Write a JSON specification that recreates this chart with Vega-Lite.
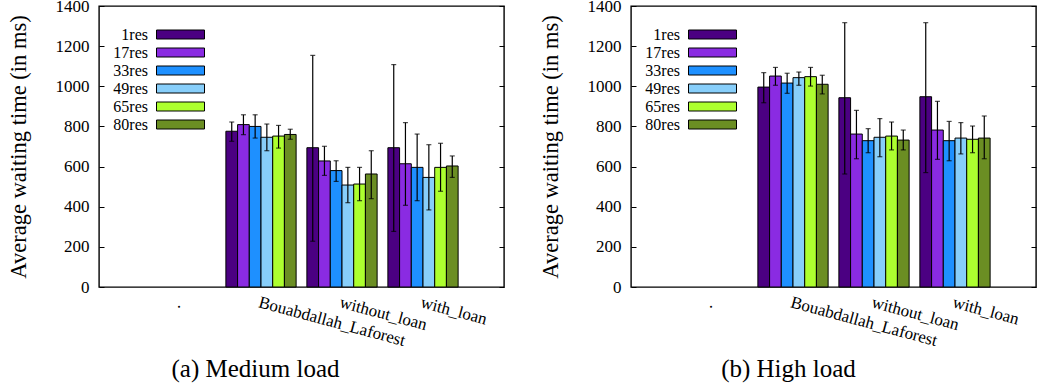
{
  "$schema": "https://vega.github.io/schema/vega-lite/v6.json",
  "padding": {"left": 6, "top": -4, "right": 5, "bottom": 0},
  "background": "white",
  "datasets": {
    "medium": [
      {"group": "Bouabdallah_Laforest", "series": "1res", "value": 776, "lo": 726, "hi": 822},
      {"group": "Bouabdallah_Laforest", "series": "17res", "value": 809, "lo": 759, "hi": 858},
      {"group": "Bouabdallah_Laforest", "series": "33res", "value": 800, "lo": 742, "hi": 858},
      {"group": "Bouabdallah_Laforest", "series": "49res", "value": 746, "lo": 679, "hi": 812},
      {"group": "Bouabdallah_Laforest", "series": "65res", "value": 752, "lo": 692, "hi": 805},
      {"group": "Bouabdallah_Laforest", "series": "80res", "value": 760, "lo": 736, "hi": 786},
      {"group": "without_loan", "series": "1res", "value": 694, "lo": 228, "hi": 1154},
      {"group": "without_loan", "series": "17res", "value": 628, "lo": 556, "hi": 701},
      {"group": "without_loan", "series": "33res", "value": 580, "lo": 526, "hi": 629},
      {"group": "without_loan", "series": "49res", "value": 508, "lo": 420, "hi": 596},
      {"group": "without_loan", "series": "65res", "value": 513, "lo": 430, "hi": 596},
      {"group": "without_loan", "series": "80res", "value": 563, "lo": 440, "hi": 679},
      {"group": "with_loan", "series": "1res", "value": 694, "lo": 277, "hi": 1108},
      {"group": "with_loan", "series": "17res", "value": 614, "lo": 407, "hi": 819},
      {"group": "with_loan", "series": "33res", "value": 596, "lo": 430, "hi": 762},
      {"group": "with_loan", "series": "49res", "value": 546, "lo": 384, "hi": 709},
      {"group": "with_loan", "series": "65res", "value": 596, "lo": 477, "hi": 716},
      {"group": "with_loan", "series": "80res", "value": 603, "lo": 546, "hi": 653}
    ],
    "high": [
      {"group": "Bouabdallah_Laforest", "series": "1res", "value": 996, "lo": 918, "hi": 1068},
      {"group": "Bouabdallah_Laforest", "series": "17res", "value": 1051, "lo": 1005, "hi": 1094},
      {"group": "Bouabdallah_Laforest", "series": "33res", "value": 1016, "lo": 965, "hi": 1065},
      {"group": "Bouabdallah_Laforest", "series": "49res", "value": 1043, "lo": 1005, "hi": 1071},
      {"group": "Bouabdallah_Laforest", "series": "65res", "value": 1048, "lo": 1001, "hi": 1094},
      {"group": "Bouabdallah_Laforest", "series": "80res", "value": 1010, "lo": 962, "hi": 1055},
      {"group": "without_loan", "series": "1res", "value": 943, "lo": 563, "hi": 1317},
      {"group": "without_loan", "series": "17res", "value": 762, "lo": 639, "hi": 880},
      {"group": "without_loan", "series": "33res", "value": 729, "lo": 669, "hi": 789},
      {"group": "without_loan", "series": "49res", "value": 746, "lo": 649, "hi": 839},
      {"group": "without_loan", "series": "65res", "value": 752, "lo": 683, "hi": 822},
      {"group": "without_loan", "series": "80res", "value": 732, "lo": 683, "hi": 782},
      {"group": "with_loan", "series": "1res", "value": 948, "lo": 570, "hi": 1317},
      {"group": "with_loan", "series": "17res", "value": 782, "lo": 636, "hi": 925},
      {"group": "with_loan", "series": "33res", "value": 729, "lo": 629, "hi": 825},
      {"group": "with_loan", "series": "49res", "value": 742, "lo": 663, "hi": 819},
      {"group": "with_loan", "series": "65res", "value": 736, "lo": 669, "hi": 802},
      {"group": "with_loan", "series": "80res", "value": 742, "lo": 639, "hi": 852}
    ]
  },
  "config": {
    "view": {"stroke": "black", "strokeWidth": 1.4},
    "font": "Times New Roman",
    "axis": {"labelFont": "Times New Roman", "titleFont": "Times New Roman", "labelColor": "black", "titleColor": "black", "tickColor": "black", "grid": false},
    "legend": {"labelFont": "Times New Roman", "labelColor": "black"},
    "title": {"font": "Times New Roman", "color": "black", "fontWeight": "normal"}
  },
  "resolve": {"legend": {"color": "independent"}},
  "spacing": 32,
  "hconcat": [
    {
      "width": 405, "height": 281,
      "data": {"name": "medium"},
      "title": {"text": "(a) Medium load", "orient": "bottom", "anchor": "middle", "frame": "group", "dx": -46, "offset": 8, "fontSize": 25},
      "resolve": {"axis": {"y": "independent"}},
      "encoding": {
        "x": {"field": "group", "type": "nominal", "sort": null, "title": null,
          "scale": {"domain": [".", "Bouabdallah_Laforest", "without_loan", "with_loan"], "paddingInner": 0, "paddingOuter": 0.5},
          "axis": {"labelAngle": 15, "labelAlign": "left", "labelBaseline": "top", "ticks": false, "domain": false, "labelPadding": 7, "labelFontSize": 17, "labelOverlap": false, "labelLimit": 300}},
        "xOffset": {"field": "series", "type": "nominal", "sort": ["1res", "17res", "33res", "49res", "65res", "80res"], "scale": {"paddingInner": 0, "paddingOuter": 0.46}}
      },
      "layer": [
        {
          "mark": {"type": "bar", "stroke": "black", "strokeWidth": 1, "opacity": 1},
          "encoding": {
            "y": {"field": "value", "type": "quantitative", "scale": {"domain": [0, 1400], "nice": false},
              "axis": {"orient": "left", "values": [0, 200, 400, 600, 800, 1000, 1200, 1400], "format": "d", "tickSize": -5, "labelPadding": 15, "domain": false, "labelFontSize": 17, "title": "Average waiting time (in ms)", "titleFontSize": 22.5, "titleFontWeight": "normal", "titlePadding": 25}},
            "color": {"field": "series", "type": "nominal", "sort": ["1res", "17res", "33res", "49res", "65res", "80res"],
              "scale": {"domain": ["1res", "17res", "33res", "49res", "65res", "80res"], "range": ["#4b0082", "#8a2be2", "#1e90ff", "#87cefa", "#adff2f", "#6b8e23"]},
              "legend": {"orient": "none", "legendX": 73.5, "legendY": 20.5, "title": null, "padding": 0, "symbolType": "M-4,-0.75H4V0.75H-4Z", "symbolSize": 144, "symbolStrokeColor": "black", "symbolStrokeWidth": 1, "symbolOpacity": 1, "labelAlign": "right", "labelOffset": -40.5, "labelFontSize": 16, "rowPadding": 2}}
          }
        },
        {
          "mark": {"type": "rule", "color": "black", "strokeWidth": 1.2},
          "encoding": {
            "y": {"field": "lo", "type": "quantitative", "scale": {"domain": [0, 1400], "nice": false},
              "axis": {"orient": "right", "values": [0, 200, 400, 600, 800, 1000, 1200, 1400], "tickSize": -5, "labels": false, "domain": false, "title": null}},
            "y2": {"field": "hi"}
          }
        },
        {
          "mark": {"type": "tick", "orient": "horizontal", "color": "black", "size": 5, "thickness": 1.2},
          "encoding": {"y": {"field": "lo", "type": "quantitative", "axis": null}}
        },
        {
          "mark": {"type": "tick", "orient": "horizontal", "color": "black", "size": 5, "thickness": 1.2},
          "encoding": {"y": {"field": "hi", "type": "quantitative", "axis": null}}
        }
      ]
    },
    {
      "width": 405, "height": 281,
      "data": {"name": "high"},
      "title": {"text": "(b) High load", "orient": "bottom", "anchor": "middle", "frame": "group", "dx": -45, "offset": 8, "fontSize": 25},
      "resolve": {"axis": {"y": "independent"}},
      "encoding": {
        "x": {"field": "group", "type": "nominal", "sort": null, "title": null,
          "scale": {"domain": [".", "Bouabdallah_Laforest", "without_loan", "with_loan"], "paddingInner": 0, "paddingOuter": 0.5},
          "axis": {"labelAngle": 15, "labelAlign": "left", "labelBaseline": "top", "ticks": false, "domain": false, "labelPadding": 7, "labelFontSize": 17, "labelOverlap": false, "labelLimit": 300}},
        "xOffset": {"field": "series", "type": "nominal", "sort": ["1res", "17res", "33res", "49res", "65res", "80res"], "scale": {"paddingInner": 0, "paddingOuter": 0.46}}
      },
      "layer": [
        {
          "mark": {"type": "bar", "stroke": "black", "strokeWidth": 1, "opacity": 1},
          "encoding": {
            "y": {"field": "value", "type": "quantitative", "scale": {"domain": [0, 1400], "nice": false},
              "axis": {"orient": "left", "values": [0, 200, 400, 600, 800, 1000, 1200, 1400], "format": "d", "tickSize": -5, "labelPadding": 15, "domain": false, "labelFontSize": 17, "title": "Average waiting time (in ms)", "titleFontSize": 22.5, "titleFontWeight": "normal", "titlePadding": 25}},
            "color": {"field": "series", "type": "nominal", "sort": ["1res", "17res", "33res", "49res", "65res", "80res"],
              "scale": {"domain": ["1res", "17res", "33res", "49res", "65res", "80res"], "range": ["#4b0082", "#8a2be2", "#1e90ff", "#87cefa", "#adff2f", "#6b8e23"]},
              "legend": {"orient": "none", "legendX": 73.5, "legendY": 20.5, "title": null, "padding": 0, "symbolType": "M-4,-0.75H4V0.75H-4Z", "symbolSize": 144, "symbolStrokeColor": "black", "symbolStrokeWidth": 1, "symbolOpacity": 1, "labelAlign": "right", "labelOffset": -40.5, "labelFontSize": 16, "rowPadding": 2}}
          }
        },
        {
          "mark": {"type": "rule", "color": "black", "strokeWidth": 1.2},
          "encoding": {
            "y": {"field": "lo", "type": "quantitative", "scale": {"domain": [0, 1400], "nice": false},
              "axis": {"orient": "right", "values": [0, 200, 400, 600, 800, 1000, 1200, 1400], "tickSize": -5, "labels": false, "domain": false, "title": null}},
            "y2": {"field": "hi"}
          }
        },
        {
          "mark": {"type": "tick", "orient": "horizontal", "color": "black", "size": 5, "thickness": 1.2},
          "encoding": {"y": {"field": "lo", "type": "quantitative", "axis": null}}
        },
        {
          "mark": {"type": "tick", "orient": "horizontal", "color": "black", "size": 5, "thickness": 1.2},
          "encoding": {"y": {"field": "hi", "type": "quantitative", "axis": null}}
        }
      ]
    }
  ]
}
